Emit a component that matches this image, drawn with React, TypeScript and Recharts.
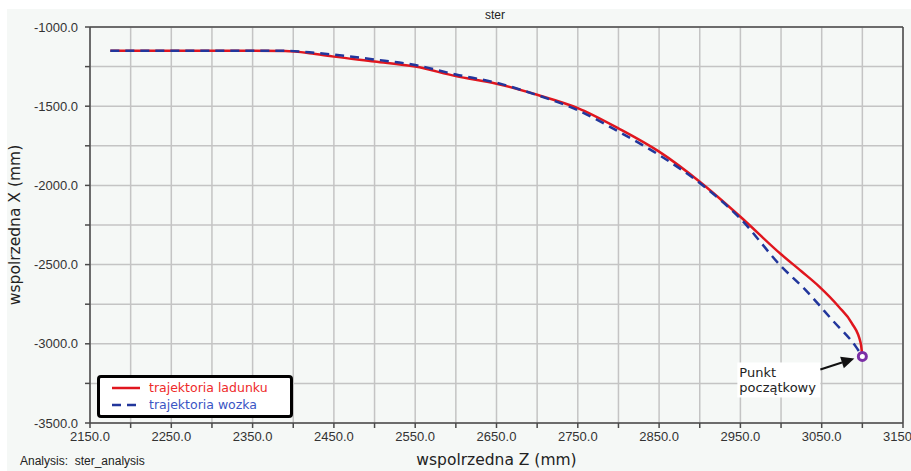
import React from 'react';
import {
  LineChart, Line, XAxis, YAxis, CartesianGrid, ReferenceLine, ReferenceDot, Label,
} from 'recharts';

// trajektoria ladunku (red) — Z, X in mm
const loadZ = [2175, 2250, 2300, 2350, 2390, 2420, 2450, 2500, 2550, 2600, 2650, 2700, 2750, 2800, 2850, 2900, 2950, 3000, 3025, 3047, 3071, 3087, 3098, 3100];
const loadX = [-1150, -1150, -1150, -1150, -1152, -1165, -1187, -1218, -1250, -1310, -1358, -1428, -1512, -1640, -1787, -1977, -2198, -2435, -2542, -2639, -2766, -2869, -2997, -3080];

// trajektoria wozka (blue dashed)
const cartZ = [2175, 2250, 2300, 2350, 2390, 2420, 2450, 2500, 2550, 2600, 2650, 2700, 2750, 2800, 2850, 2900, 2950, 3000, 3030, 3063, 3092, 3100];
const cartX = [-1150, -1150, -1150, -1150, -1150, -1160, -1175, -1205, -1240, -1300, -1352, -1430, -1525, -1660, -1808, -1985, -2210, -2510, -2660, -2850, -3018, -3080];

const startPoint = { z: 3100, x: -3080 };

const zTicks = [2150, 2200, 2250, 2300, 2350, 2400, 2450, 2500, 2550, 2600, 2650, 2700, 2750, 2800, 2850, 2900, 2950, 3000, 3050, 3100, 3150];
const xTicks = [-3500, -3250, -3000, -2750, -2500, -2250, -2000, -1750, -1500, -1250, -1000];

const loadData = loadZ.map((z, i) => ({ z, x: loadX[i] }));
const cartData = cartZ.map((z, i) => ({ z, x: cartX[i] }));

const RED = '#e0161e';
const BLUE = '#22369c';
const AXIS = '#4a4a4a';

const tickStyle = { fontSize: 13, fill: '#333', fontFamily: '"Liberation Sans", Arial, sans-serif' };

const StartMarker = (props: any) => {
  const { cx, cy } = props;
  if (cx == null || cy == null) return null;
  // arrow from the note box to the marker
  const x1 = cx - 42, y1 = cy + 13;
  const x2 = cx - 8, y2 = cy + 2;
  const ang = Math.atan2(y2 - y1, x2 - x1);
  const hl = 13, hw = 6;
  const bx = x2 - hl * Math.cos(ang), by = y2 - hl * Math.sin(ang);
  const p1 = `${x2},${y2}`;
  const p2 = `${bx + hw * Math.sin(ang)},${by - hw * Math.cos(ang)}`;
  const p3 = `${bx - hw * Math.sin(ang)},${by + hw * Math.cos(ang)}`;
  return (
    <g>
      <rect x={cx - 125} y={cy + 6} width={83} height={35} fill="#ffffff" />
      <text x={cx - 123} y={cy + 21} fontSize={13} fill="#222" fontFamily='"DejaVu Sans", Verdana, sans-serif'>Punkt</text>
      <text x={cx - 123} y={cy + 36} fontSize={13} fill="#222" fontFamily='"DejaVu Sans", Verdana, sans-serif'>początkowy</text>
      <line x1={x1} y1={y1} x2={bx} y2={by} stroke="#111" strokeWidth={2} />
      <polygon points={`${p1} ${p2} ${p3}`} fill="#111" />
      <circle cx={cx} cy={cy} r={4} fill="#ffffff" stroke="#7b2fa6" strokeWidth={3} />
    </g>
  );
};

const LegendBox = () => (
  <div
    style={{
      position: 'absolute',
      left: 97,
      top: 375,
      width: 190,
      height: 37,
      border: '3px solid #000',
      borderRadius: 4,
      background: '#fff',
      fontFamily: '"DejaVu Sans", Verdana, sans-serif',
      fontSize: 12.5,
    }}
  >
    <svg width={40} height={37} style={{ position: 'absolute', left: 8, top: 0 }}>
      <line x1={4} y1={10} x2={32} y2={10} stroke={RED} strokeWidth={2.5} />
      <line x1={4} y1={27} x2={32} y2={27} stroke={BLUE} strokeWidth={2.5} strokeDasharray="9 6" />
    </svg>
    <div style={{ position: 'absolute', left: 49, top: 2, color: '#ee2a2a', lineHeight: '16px', whiteSpace: 'nowrap' }}>trajektoria ladunku</div>
    <div style={{ position: 'absolute', left: 49, top: 19, color: '#3b55c4', lineHeight: '16px', whiteSpace: 'nowrap' }}>trajektoria wozka</div>
  </div>
);

export default function App() {
  return (
    <div style={{ position: 'absolute', left: 0, top: 0, width: 911, height: 471, background: '#fff', overflow: 'hidden' }}>
      <div style={{ position: 'absolute', left: 7, top: 9, width: 904, height: 462, background: '#f5f8f6' }} />
      <div
        style={{
          position: 'absolute', left: 0, top: 8, width: 911, textAlign: 'center',
          fontFamily: '"Liberation Sans", Arial, sans-serif', fontSize: 12, color: '#222', paddingLeft: 79, boxSizing: 'border-box',
        }}
      >
        ster
      </div>
      <div
        style={{
          position: 'absolute', left: 20, top: 454,
          fontFamily: '"Liberation Sans", Arial, sans-serif', fontSize: 12, color: '#222', whiteSpace: 'pre',
        }}
      >
        {'Analysis:  ster_analysis'}
      </div>
      <div style={{ position: 'absolute', left: 0, top: 0 }}>
        <LineChart width={911} height={471} margin={{ top: 27, right: 8, bottom: 0, left: 8 }}>
          <CartesianGrid stroke="#c4c4c4" strokeWidth={1.5} />
          <XAxis
            type="number"
            dataKey="z"
            domain={[2150, 3150]}
            ticks={zTicks}
            allowDataOverflow
            interval={0}
            height={48}
            stroke={AXIS}
            strokeWidth={1.5}
            tickSize={5}
            tickMargin={4}
            tick={tickStyle}
            tickFormatter={(v: number) => ((v - 2150) % 100 === 0 ? v.toFixed(1) : '')}
          >
            <Label
              value="wspolrzedna Z (mm)"
              position="insideBottom"
              offset={6}
              style={{ fontSize: 15.5, fill: '#222', fontFamily: '"DejaVu Sans", Verdana, sans-serif' }}
            />
          </XAxis>
          <YAxis
            type="number"
            dataKey="x"
            domain={[-3500, -1000]}
            ticks={xTicks}
            allowDataOverflow
            interval={0}
            width={82}
            stroke={AXIS}
            strokeWidth={1.5}
            tickSize={5}
            tickMargin={7}
            tick={tickStyle}
            tickFormatter={(v: number) => (v % 500 === 0 ? v.toFixed(1) : '')}
          >
            <Label
              value="wspolrzedna X (mm)"
              angle={-90}
              position="insideLeft"
              offset={6}
              style={{ fontSize: 15.5, fill: '#222', fontFamily: '"DejaVu Sans", Verdana, sans-serif', textAnchor: 'middle' }}
            />
          </YAxis>
          <ReferenceLine y={-1000} stroke={AXIS} strokeWidth={1.5} />
          <ReferenceLine x={3150} stroke={AXIS} strokeWidth={1.5} />
          <Line
            data={loadData}
            dataKey="x"
            name="trajektoria ladunku"
            type="monotone"
            stroke={RED}
            strokeWidth={2.5}
            dot={false}
            isAnimationActive={false}
          />
          <Line
            data={cartData}
            dataKey="x"
            name="trajektoria wozka"
            type="monotone"
            stroke={BLUE}
            strokeWidth={2.5}
            strokeDasharray="9 6"
            dot={false}
            isAnimationActive={false}
          />
          <ReferenceDot x={startPoint.z} y={startPoint.x} shape={StartMarker} />
        </LineChart>
      </div>
      <LegendBox />
    </div>
  );
}
